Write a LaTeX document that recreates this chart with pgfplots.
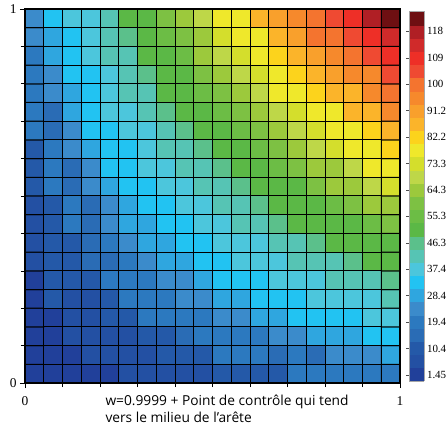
\documentclass[border=0pt]{standalone}
\usepackage{pgfplots}
\pgfplotsset{compat=1.18}
\usetikzlibrary{calc}
\usepackage{fontspec}
\setmainfont{Liberation Serif}
\newfontfamily\labfont{Open Sans}
\begin{document}
\begin{tikzpicture}
\begin{axis}[
  name=main,
  scale only axis, width=375bp, height=374bp,
  xmin=-0.5, xmax=19.5, ymin=-0.5, ymax=19.5,
  xtick={-0.5,19.5}, xticklabels={0,1},
  ytick={-0.5,19.5}, yticklabels={0,1},
  minor xtick={1.5,3.5,...,17.5}, minor ytick={1.5,3.5,...,17.5},
  tick align=outside, tick pos=left,
  major tick length=5bp, minor tick length=4bp,
  every tick/.style={black, line width=0.6bp},
  axis line style={black, line width=1.2bp},
  axis on top,
  tick label style={font=\fontsize{13.5}{13.5}\selectfont},
  xticklabel style={yshift=-5bp},
  xlabel={w=0.9999 + Point de contrôle qui tend\\vers le milieu de l’arête},
  xlabel style={align=left, font=\labfont\fontsize{13.8}{18}\selectfont,
    at={(axis description cs:0,0)}, anchor=north west, xshift=77bp, yshift=-8bp},
  colormap={ref}{rgb255=(33,64,154) rgb255=(35,80,163) rgb255=(36,89,168) rgb255=(42,108,181)
    rgb255=(44,121,191) rgb255=(59,139,203) rgb255=(47,166,223) rgb255=(34,195,242)
    rgb255=(76,198,220) rgb255=(86,196,180) rgb255=(91,192,139) rgb255=(91,184,70)
    rgb255=(108,189,69) rgb255=(125,193,67) rgb255=(156,201,60) rgb255=(190,215,72)
    rgb255=(212,222,44) rgb255=(239,232,43) rgb255=(252,211,28) rgb255=(251,180,42)
    rgb255=(249,160,44) rgb255=(246,137,44) rgb255=(244,116,47) rgb255=(239,74,50)
    rgb255=(238,47,39) rgb255=(208,42,42) rgb255=(176,31,37) rgb255=(110,15,18)},
  colormap access=piecewise constant,
  point meta min=-0.79, point meta max=124.86,
  colorbar,
  colorbar shift/.style={xshift=9bp},
  colorbar style={
    at={(parent axis.north east)}, anchor=north west, yshift=-2.5bp,
    width=15bp, height=370bp, scale only axis,
    ytick={1.45,10.425,19.4,28.375,37.35,46.325,55.3,64.275,73.25,82.225,91.2,100.175,109.15,118.125},
    yticklabels={1.45,10.4,19.4,28.4,37.4,46.3,55.3,64.3,73.3,82.2,91.2,100,109,118},
    ytick pos=left, yticklabel pos=right,
    tick align=outside, major tick length=3bp,
    every tick/.style={black!70, line width=0.5bp},
    tick label style={font=\fontsize{11}{11}\selectfont},
    yticklabel style={xshift=-3.5bp},
    axis line style={gray!70, line width=0.5bp},
  },
]
\addplot[matrix plot*, mesh/cols=20, point meta=explicit, draw=black, line width=1bp] coordinates {
(0,0)[1.45] (1,0)[1.45] (2,0)[1.45] (3,0)[1.45] (4,0)[1.45] (5,0)[5.94] (6,0)[5.94] (7,0)[5.94] (8,0)[5.94] (9,0)[5.94] (10,0)[10.43] (11,0)[10.43] (12,0)[10.43] (13,0)[10.43] (14,0)[19.40] (15,0)[19.40] (16,0)[19.40] (17,0)[19.40] (18,0)[19.40] (19,0)[19.40]
(0,1)[1.45] (1,1)[1.45] (2,1)[1.45] (3,1)[5.94] (4,1)[5.94] (5,1)[5.94] (6,1)[5.94] (7,1)[10.43] (8,1)[10.43] (9,1)[10.43] (10,1)[19.40] (11,1)[19.40] (12,1)[19.40] (13,1)[14.91] (14,1)[19.40] (15,1)[14.91] (16,1)[23.89] (17,1)[23.89] (18,1)[23.89] (19,1)[28.38]
(0,2)[1.45] (1,2)[1.45] (2,2)[5.94] (3,2)[5.94] (4,2)[5.94] (5,2)[5.94] (6,2)[10.43] (7,2)[10.43] (8,2)[14.91] (9,2)[19.40] (10,2)[19.40] (11,2)[19.40] (12,2)[19.40] (13,2)[23.89] (14,2)[23.89] (15,2)[28.38] (16,2)[28.38] (17,2)[28.38] (18,2)[32.86] (19,2)[32.86]
(0,3)[1.45] (1,3)[1.45] (2,3)[5.94] (3,3)[5.94] (4,3)[10.43] (5,3)[10.43] (6,3)[19.40] (7,3)[19.40] (8,3)[19.40] (9,3)[19.40] (10,3)[23.89] (11,3)[23.89] (12,3)[28.38] (13,3)[28.38] (14,3)[32.86] (15,3)[32.86] (16,3)[32.86] (17,3)[32.86] (18,3)[37.35] (19,3)[37.35]
(0,4)[1.45] (1,4)[10.43] (2,4)[5.94] (3,4)[5.94] (4,4)[10.43] (5,4)[19.40] (6,4)[19.40] (7,4)[19.40] (8,4)[23.89] (9,4)[23.89] (10,4)[28.38] (11,4)[28.38] (12,4)[32.86] (13,4)[32.86] (14,4)[32.86] (15,4)[37.35] (16,4)[37.35] (17,4)[37.35] (18,4)[37.35] (19,4)[41.84]
(0,5)[1.45] (1,5)[10.43] (2,5)[10.43] (3,5)[10.43] (4,5)[19.40] (5,5)[19.40] (6,5)[19.40] (7,5)[23.89] (8,5)[23.89] (9,5)[28.38] (10,5)[32.86] (11,5)[32.86] (12,5)[32.86] (13,5)[37.35] (14,5)[37.35] (15,5)[37.35] (16,5)[41.84] (17,5)[41.84] (18,5)[41.84] (19,5)[46.33]
(0,6)[5.94] (1,6)[10.43] (2,6)[10.43] (3,6)[14.91] (4,6)[14.91] (5,6)[19.40] (6,6)[23.89] (7,6)[28.38] (8,6)[28.38] (9,6)[32.86] (10,6)[32.86] (11,6)[37.35] (12,6)[37.35] (13,6)[37.35] (14,6)[41.84] (15,6)[41.84] (16,6)[41.84] (17,6)[46.33] (18,6)[50.81] (19,6)[50.81]
(0,7)[5.94] (1,7)[10.43] (2,7)[10.43] (3,7)[14.91] (4,7)[19.40] (5,7)[23.89] (6,7)[28.38] (7,7)[28.38] (8,7)[32.86] (9,7)[32.86] (10,7)[37.35] (11,7)[37.35] (12,7)[37.35] (13,7)[41.84] (14,7)[41.84] (15,7)[46.33] (16,7)[50.81] (17,7)[50.81] (18,7)[50.81] (19,7)[50.81]
(0,8)[5.94] (1,8)[10.43] (2,8)[19.40] (3,8)[14.91] (4,8)[23.89] (5,8)[28.38] (6,8)[28.38] (7,8)[32.86] (8,8)[32.86] (9,8)[37.35] (10,8)[37.35] (11,8)[41.84] (12,8)[41.84] (13,8)[46.33] (14,8)[50.81] (15,8)[50.81] (16,8)[50.81] (17,8)[50.81] (18,8)[55.30] (19,8)[59.79]
(0,9)[5.94] (1,9)[10.43] (2,9)[19.40] (3,9)[14.91] (4,9)[23.89] (5,9)[28.38] (6,9)[32.86] (7,9)[32.86] (8,9)[37.35] (9,9)[37.35] (10,9)[41.84] (11,9)[41.84] (12,9)[46.33] (13,9)[50.81] (14,9)[50.81] (15,9)[50.81] (16,9)[55.30] (17,9)[59.79] (18,9)[64.28] (19,9)[64.28]
(0,10)[10.43] (1,10)[19.40] (2,10)[14.91] (3,10)[23.89] (4,10)[28.38] (5,10)[32.86] (6,10)[32.86] (7,10)[37.35] (8,10)[37.35] (9,10)[41.84] (10,10)[41.84] (11,10)[46.33] (12,10)[50.81] (13,10)[50.81] (14,10)[50.81] (15,10)[59.79] (16,10)[64.28] (17,10)[64.28] (18,10)[68.76] (19,10)[73.25]
(0,11)[10.43] (1,11)[19.40] (2,11)[14.91] (3,11)[23.89] (4,11)[32.86] (5,11)[32.86] (6,11)[37.35] (7,11)[37.35] (8,11)[41.84] (9,11)[41.84] (10,11)[46.33] (11,11)[50.81] (12,11)[50.81] (13,11)[55.30] (14,11)[59.79] (15,11)[64.28] (16,11)[64.28] (17,11)[68.76] (18,11)[77.74] (19,11)[77.74]
(0,12)[10.43] (1,12)[19.40] (2,12)[23.89] (3,12)[28.38] (4,12)[32.86] (5,12)[32.86] (6,12)[37.35] (7,12)[41.84] (8,12)[41.84] (9,12)[46.33] (10,12)[50.81] (11,12)[50.81] (12,12)[55.30] (13,12)[59.79] (14,12)[64.28] (15,12)[68.76] (16,12)[73.25] (17,12)[77.74] (18,12)[77.74] (19,12)[82.23]
(0,13)[19.40] (1,13)[14.91] (2,13)[23.89] (3,13)[32.86] (4,13)[32.86] (5,13)[37.35] (6,13)[37.35] (7,13)[41.84] (8,13)[46.33] (9,13)[50.81] (10,13)[50.81] (11,13)[55.30] (12,13)[59.79] (13,13)[64.28] (14,13)[68.76] (15,13)[73.25] (16,13)[77.74] (17,13)[77.74] (18,13)[82.23] (19,13)[86.71]
(0,14)[19.40] (1,14)[14.91] (2,14)[28.38] (3,14)[32.86] (4,14)[37.35] (5,14)[37.35] (6,14)[41.84] (7,14)[46.33] (8,14)[50.81] (9,14)[50.81] (10,14)[55.30] (11,14)[59.79] (12,14)[64.28] (13,14)[68.76] (14,14)[73.25] (15,14)[77.74] (16,14)[77.74] (17,14)[86.71] (18,14)[86.71] (19,14)[95.69]
(0,15)[19.40] (1,15)[23.89] (2,15)[28.38] (3,15)[32.86] (4,15)[37.35] (5,15)[41.84] (6,15)[41.84] (7,15)[50.81] (8,15)[50.81] (9,15)[55.30] (10,15)[59.79] (11,15)[64.28] (12,15)[68.76] (13,15)[77.74] (14,15)[77.74] (15,15)[82.23] (16,15)[86.71] (17,15)[86.71] (18,15)[95.69] (19,15)[100.18]
(0,16)[19.40] (1,16)[23.89] (2,16)[32.86] (3,16)[32.86] (4,16)[37.35] (5,16)[41.84] (6,16)[46.33] (7,16)[50.81] (8,16)[50.81] (9,16)[59.79] (10,16)[64.28] (11,16)[68.76] (12,16)[73.25] (13,16)[77.74] (14,16)[82.23] (15,16)[86.71] (16,16)[91.20] (17,16)[95.69] (18,16)[95.69] (19,16)[104.66]
(0,17)[19.40] (1,17)[28.38] (2,17)[32.86] (3,17)[37.35] (4,17)[41.84] (5,17)[41.84] (6,17)[50.81] (7,17)[50.81] (8,17)[55.30] (9,17)[64.28] (10,17)[68.76] (11,17)[73.25] (12,17)[77.74] (13,17)[82.23] (14,17)[86.71] (15,17)[91.20] (16,17)[95.69] (17,17)[100.18] (18,17)[104.66] (19,17)[109.15]
(0,18)[23.89] (1,18)[28.38] (2,18)[32.86] (3,18)[37.35] (4,18)[41.84] (5,18)[46.33] (6,18)[50.81] (7,18)[55.30] (8,18)[59.79] (9,18)[64.28] (10,18)[73.25] (11,18)[77.74] (12,18)[77.74] (13,18)[86.71] (14,18)[91.20] (15,18)[100.18] (16,18)[100.18] (17,18)[104.66] (18,18)[109.15] (19,18)[113.64]
(0,19)[23.89] (1,19)[32.86] (2,19)[37.35] (3,19)[37.35] (4,19)[41.84] (5,19)[50.81] (6,19)[50.81] (7,19)[59.79] (8,19)[64.28] (9,19)[68.76] (10,19)[77.74] (11,19)[77.74] (12,19)[86.71] (13,19)[91.20] (14,19)[95.69] (15,19)[100.18] (16,19)[104.66] (17,19)[109.15] (18,19)[118.13] (19,19)[122.61]
};
\end{axis}
\pgfresetboundingbox
\path[use as bounding box] ($(main.south west)+(-25bp,-47bp)$) rectangle ($(main.north east)+(46bp,9bp)$);
\end{tikzpicture}
\end{document}
